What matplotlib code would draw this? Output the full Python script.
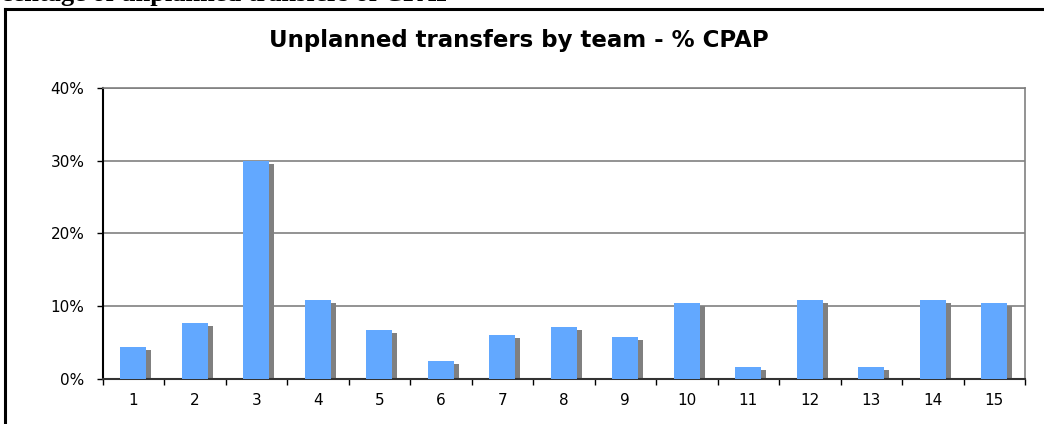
import matplotlib
matplotlib.use("Agg")
import matplotlib.pyplot as plt
from matplotlib.lines import Line2D
from matplotlib.ticker import FuncFormatter, MultipleLocator
import numpy as np

teams = [str(i) for i in range(1, 16)]
cpap_pct = [4.4, 7.7, 30.0, 10.8, 6.8, 2.5, 6.1, 7.1, 5.8, 10.4, 1.6, 10.9, 1.6, 10.9, 10.4]

BAR_BLUE = "#62A8FF"
SHADOW_GREY = "#808080"
GRID_GREY = "#808080"

fig = plt.figure(figsize=(10.44, 4.24), dpi=100)
fig.patch.set_facecolor("white")
ax = fig.add_axes([0.0982, 0.1061, 0.8836, 0.6864])

x = np.arange(len(teams))
width = 0.42
# drop shadow: shifted a few pixels right and down behind each bar
dx = 5 / 61.5
dy = 3 / 72.8 * 10
ax.bar(x + dx, np.array(cpap_pct) - dy, width=width, color=SHADOW_GREY, zorder=2)
ax.bar(x, cpap_pct, width=width, color=BAR_BLUE, zorder=3)

ax.set_xlim(-0.5, len(teams) - 0.5)
ax.set_ylim(0, 40)
ax.yaxis.set_major_locator(MultipleLocator(10))
ax.yaxis.set_major_formatter(FuncFormatter(lambda v, p: f"{int(v)}%"))
ax.yaxis.grid(True, color=GRID_GREY, linewidth=1.2, zorder=0)
ax.set_axisbelow(True)

ax.set_xticks(x)
ax.set_xticklabels(teams)
ax.set_xticks(np.arange(-0.5, len(teams), 1), minor=True)
ax.tick_params(axis="x", which="major", length=0, pad=10, labelsize=11)
ax.tick_params(axis="x", which="minor", length=4, width=1, direction="out", color="black")
ax.tick_params(axis="y", length=4, width=1, direction="out", pad=9, labelsize=11)

for lab in ax.get_xticklabels() + ax.get_yticklabels():
    lab.set_family("DejaVu Sans")

ax.spines["left"].set_color("black")
ax.spines["left"].set_linewidth(1.5)
ax.spines["bottom"].set_color("#333333")
ax.spines["bottom"].set_linewidth(1.5)
ax.spines["right"].set_color(GRID_GREY)
ax.spines["right"].set_linewidth(1.2)
ax.spines["top"].set_color(GRID_GREY)
ax.spines["top"].set_linewidth(1.2)

fig.text(0.497, 0.905, "Unplanned transfers by team - % CPAP",
         ha="center", va="center", fontsize=16.5, fontweight="bold",
         family="DejaVu Sans")

# heading of the surrounding page, running off the top edge
fig.text(-0.036, 0.997, "Percentage of unplanned transfers of CPAP",
         ha="left", va="baseline", fontsize=19, fontweight="bold",
         family="Liberation Serif")

# chart frame (left and top edges)
fig.add_artist(Line2D([5 / 1044, 5 / 1044], [0, 1 - 9 / 424],
                      transform=fig.transFigure, color="black", linewidth=2.2))
fig.add_artist(Line2D([5 / 1044, 1], [1 - 9 / 424, 1 - 9 / 424],
                      transform=fig.transFigure, color="black", linewidth=2.2))

fig.savefig("out.png", dpi=100, facecolor="white")
